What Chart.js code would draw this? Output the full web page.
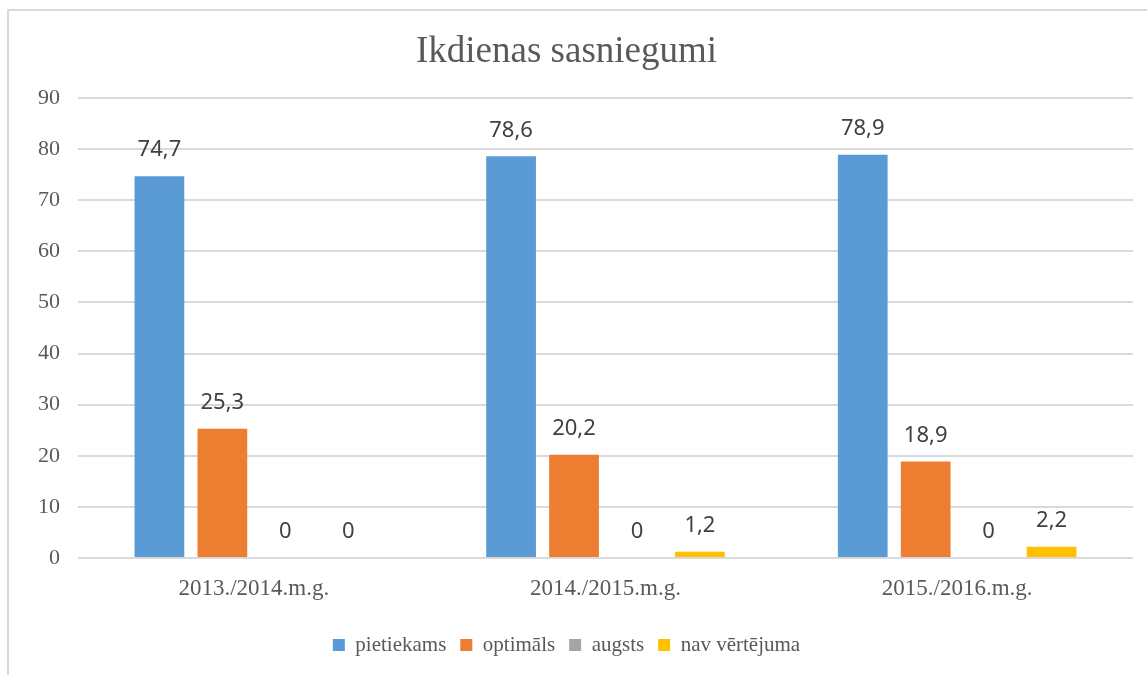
<!DOCTYPE html>
<html>
<head>
<meta charset="utf-8">
<script src="https://cdn.jsdelivr.net/npm/chart.js@4"></script>
<style>
  html, body { margin: 0; padding: 0; background: #fff; overflow: hidden; }
  #frame { position: absolute; left: 7px; top: 9px; width: 1200px; height: 700px; border: 2px solid #d9d9d9; }
  #wrap { position: absolute; left: 0; top: 0; width: 1147px; height: 675px; }
</style>
</head>
<body>
<div id="frame"></div>
<div id="wrap"><canvas id="chart" width="1147" height="675"></canvas></div>
<script>
const categories = ['2013./2014.m.g.', '2014./2015.m.g.', '2015./2016.m.g.'];
const seriesNames = ['pietiekams', 'optimāls', 'augsts', 'nav vērtējuma'];
const pietiekams = [74.7, 78.6, 78.9];
const optimals = [25.3, 20.2, 18.9];
const augsts = [0, 0, 0];
const navVertejuma = [0, 1.2, 2.2];
const seriesColors = ['#5B9BD5', '#ED7D31', '#A5A5A5', '#FFC000'];

const seriesValues = [pietiekams, optimals, augsts, navVertejuma];

// draws the value above each bar, decimal comma like the original
const valueLabels = {
    id: 'valueLabels',
    afterDatasetsDraw(chart) {
        const ctx = chart.ctx;
        ctx.save();
        ctx.font = '22px "Noto Sans", sans-serif';
        ctx.fillStyle = '#404040';
        ctx.textAlign = 'center';
        ctx.textBaseline = 'middle';
        chart.data.datasets.forEach((ds, i) => {
            const meta = chart.getDatasetMeta(i);
            meta.data.forEach((bar, j) => {
                const v = ds.data[j];
                ctx.fillText(String(v).replace('.', ','), bar.x, bar.y - 26);
            });
        });
        ctx.restore();
    }
};

const ctx = document.getElementById('chart').getContext('2d');
new Chart(ctx, {
    type: 'bar',
    data: {
        labels: categories,
        datasets: seriesNames.map((name, i) => ({
            label: name,
            data: seriesValues[i],
            backgroundColor: seriesColors[i],
            barPercentage: 0.79,
            categoryPercentage: 0.716
        }))
    },
    options: {
        responsive: false,
        animation: false,
        layout: { padding: { top: 10, left: 0, right: 14, bottom: 9.5 } },
        plugins: {
            title: {
                display: true,
                text: 'Ikdienas sasniegumi',
                color: '#595959',
                font: { family: '"Liberation Serif", serif', size: 37, weight: 'normal' },
                padding: { top: 20, bottom: 23.6 }
            },
            legend: {
                position: 'bottom',
                labels: {
                    color: '#595959',
                    font: { family: '"Liberation Serif", serif', size: 21 },
                    boxWidth: 12,
                    boxHeight: 12,
                    padding: 14
                }
            },
            tooltip: { enabled: false }
        },
        scales: {
            x: {
                grid: { display: false },
                border: { display: false },
                ticks: {
                    color: '#595959',
                    font: { family: '"Liberation Serif", serif', size: 23 },
                    padding: 9
                },
                afterFit(scale) { scale.height = 62.5; }
            },
            y: {
                min: 0,
                max: 90,
                ticks: {
                    stepSize: 10,
                    color: '#595959',
                    font: { family: '"Liberation Serif", serif', size: 22 },
                    padding: 18
                },
                grid: { color: '#d9d9d9', lineWidth: 2, drawTicks: false },
                border: { display: false },
                afterFit(scale) { scale.width = 78; }
            }
        }
    },
    plugins: [valueLabels]
});
</script>
</body>
</html>
